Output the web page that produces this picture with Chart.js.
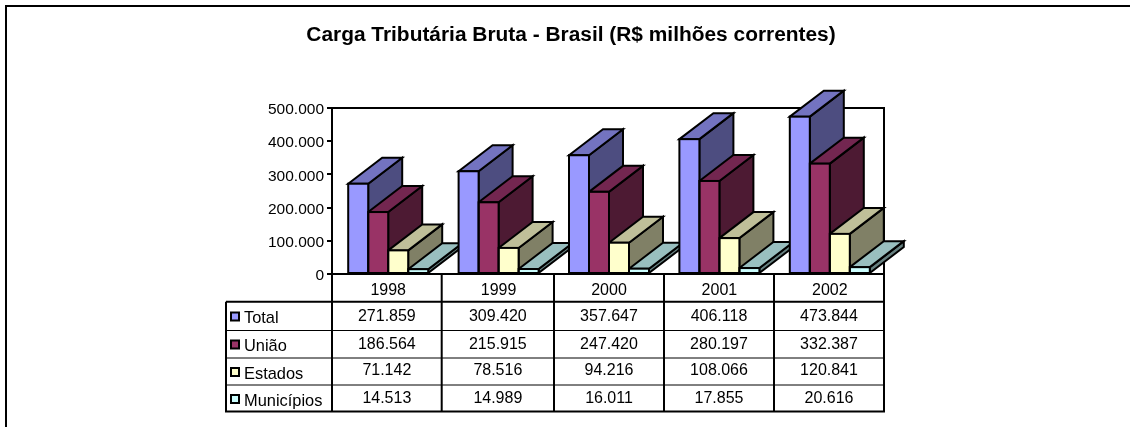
<!DOCTYPE html>
<html><head><meta charset="utf-8">
<style>html,body{margin:0;padding:0;background:#fff;overflow:hidden}canvas{display:block}</style>
<script src="https://cdn.jsdelivr.net/npm/chart.js@4/dist/chart.umd.min.js"></script>
</head><body>
<canvas id="c" width="1130" height="427"></canvas>
<script>
const titleText = 'Carga Tributária Bruta - Brasil (R$ milhões correntes)';
const years = ['1998','1999','2000','2001','2002'];
const seriesNames = ['Total','União','Estados','Municípios'];
const total = [271859,309420,357647,406118,473844];
const uniao = [186564,215915,247420,280197,332387];
const estados = [71142,78516,94216,108066,120841];
const municipios = [14513,14989,16011,17855,20616];
const frontColors = ['#9999FF','#993366','#FFFFCC','#CCFFFF'];
const topColors = ['#7373C0','#732650','#BFBF99','#99BFBF'];
const sideColors = ['#4D4D80','#4D1A33','#808066','#668080'];
const allSeries = [total,uniao,estados,municipios];
const fmt = v => String(v).replace(/\B(?=(\d{3})+(?!\d))/g,'.');
const FONT = '"Liberation Sans", Arial, sans-serif';
const DX = 34, DY = 26;
const colX = [332,441.7,554,664,774,884];
const rowY = [301.7,330.5,358,385,411.5];
const labelY = [318,346.5,374,401];
const valueY = [317,345,371,399];
const swatchY = [312.5,340.5,368,395];
let labelsShifted = false;
const depth3d = {
  id:'depth3d',
  beforeDraw(chart){
    if(labelsShifted) return;
    labelsShifted = true;
    chart.scales.y.getLabelItems(chart.chartArea).forEach(it=>{it.options.translation[1]+=2;});
  },
  beforeDatasetsDraw(chart){
    const {ctx,scales:{y}} = chart;
    ctx.save();
    ctx.strokeStyle='#000';ctx.lineWidth=2;
    ctx.strokeRect(332,108,884-332,y.getPixelForValue(0)-108);
    years.forEach((_,i)=>{
      chart.data.datasets.forEach((ds,d)=>{
        const b = chart.getDatasetMeta(d).data[i];
        const l=b.x-b.width/2,r=b.x+b.width/2,t=b.y,bot=b.base;
        ctx.fillStyle=sideColors[d];
        ctx.beginPath();ctx.moveTo(r,t);ctx.lineTo(r+DX,t-DY);ctx.lineTo(r+DX,bot-DY);ctx.lineTo(r,bot);ctx.closePath();ctx.fill();ctx.stroke();
        ctx.fillStyle=topColors[d];
        ctx.beginPath();ctx.moveTo(l,t);ctx.lineTo(l+DX,t-DY);ctx.lineTo(r+DX,t-DY);ctx.lineTo(r,t);ctx.closePath();ctx.fill();ctx.stroke();
      });
    });
    ctx.restore();
  },
  afterDatasetsDraw(chart){
    const {ctx} = chart;
    ctx.save();
    ctx.strokeStyle='#000';ctx.lineWidth=2;
    chart.data.datasets.forEach((ds,d)=>{
      chart.getDatasetMeta(d).data.forEach(b=>{
        ctx.strokeRect(b.x-b.width/2,b.y,b.width,b.base-b.y);
      });
    });
    ctx.restore();
  },
  afterDraw(chart){
    const {ctx} = chart;
    ctx.save();
    ctx.strokeStyle='#000';
    ctx.lineWidth=2;
    ctx.beginPath();ctx.moveTo(6,427);ctx.lineTo(6,6);ctx.lineTo(1130,6);ctx.stroke();
    const y0=chart.scales.y.getPixelForValue(0);
    ctx.beginPath();
    colX.forEach(x=>{ctx.moveTo(x,y0);ctx.lineTo(x,rowY[4]);});
    ctx.moveTo(226,rowY[0]);ctx.lineTo(226,rowY[4]);
    ctx.moveTo(226,rowY[0]);ctx.lineTo(colX[5],rowY[0]);
    ctx.moveTo(225,rowY[4]);ctx.lineTo(colX[5]+1,rowY[4]);
    ctx.moveTo(331,y0);ctx.lineTo(colX[5]+1,y0);
    ctx.stroke();
    ctx.lineWidth=1;
    ctx.beginPath();
    for(let r=1;r<4;r++){ctx.moveTo(226,rowY[r]);ctx.lineTo(colX[5],rowY[r]);}
    ctx.stroke();
    ctx.textBaseline='middle';
    seriesNames.forEach((n,r)=>{
      ctx.fillStyle=frontColors[r];
      ctx.fillRect(231,swatchY[r],8,8);
      ctx.lineWidth=2;
      ctx.strokeRect(231,swatchY[r],8,8);
      ctx.fillStyle='#000';
      ctx.textAlign='left';
      ctx.font='16.4px '+FONT;
      ctx.fillText(n,244,labelY[r]);
      ctx.textAlign='center';
      ctx.font='16px '+FONT;
      allSeries[r].forEach((v,c)=>{
        ctx.fillText(fmt(v),(colX[c]+colX[c+1])/2,valueY[r]);
      });
    });
    ctx.restore();
  }
};
new Chart(document.getElementById('c'),{
  type:'bar',
  data:{labels:years,datasets:seriesNames.map((n,i)=>({
    label:n,data:allSeries[i],backgroundColor:frontColors[i],borderWidth:0
  }))},
  plugins:[depth3d],
  options:{
    responsive:false,animation:false,devicePixelRatio:1,
    layout:{padding:{left:12,right:0,top:23,bottom:0}},
    datasets:{bar:{categoryPercentage:0.7246,barPercentage:1}},
    plugins:{
      legend:{display:false},tooltip:{enabled:false},
      title:{display:true,text:titleText,color:'#000',font:{family:FONT,size:20.9,weight:'bold'},padding:{top:0,bottom:59.9}}
    },
    scales:{
      x:{
        position:'bottom',
        afterFit(s){s.height=427-274;},
        grid:{display:false},border:{display:false},
        ticks:{color:'#000',font:{family:FONT,size:16},padding:-1,maxRotation:0,autoSkip:false}
      },
      y:{
        min:0,max:500000,
        afterFit(s){s.width=321;},
        grid:{display:true,drawOnChartArea:false,drawTicks:true,tickLength:6,color:'#000',lineWidth:2},
        border:{display:false},
        ticks:{stepSize:100000,color:'#000',padding:3,font:{family:FONT,size:15.5},callback:v=>fmt(v)}
      },
      spacer:{
        position:'right',
        afterFit(s){s.width=245;},
        grid:{display:false},border:{display:false},ticks:{display:false}
      }
    }
  }
});
</script>
</body></html>
